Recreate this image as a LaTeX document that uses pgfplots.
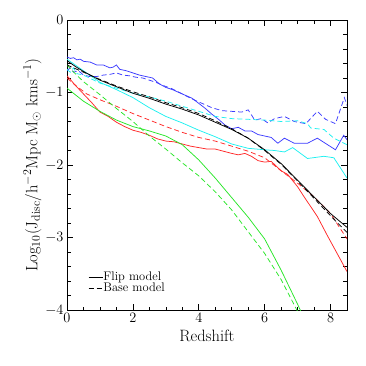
\documentclass[border=0pt]{standalone}
\usepackage{pgfplots}
\pgfplotsset{compat=1.18}
\definecolor{cblue}{RGB}{60,60,255}
\definecolor{ccyan}{RGB}{30,240,240}
\definecolor{cred}{RGB}{255,40,40}
\definecolor{cgreen}{RGB}{40,230,40}
\begin{document}
\begin{tikzpicture}
\begin{axis}[
  scale only axis, width=280bp, height=290bp,
  xmin=0, xmax=8.5, ymin=-4, ymax=0,
  xtick={0,2,4,6,8}, minor x tick num=3,
  ytick={-4,-3,-2,-1,0}, minor y tick num=4,
  tick align=inside, major tick length=6bp, minor tick length=3.5bp,
  tick style={black, line width=0.6bp},
  axis line style={line width=0.8bp},
  xlabel={Redshift},
  ylabel={Log$_{10}$(J$_{\rm disc}$/h$^{-2}$Mpc M$_\odot$ kms$^{-1}$)},
  tick label style={font=\fontsize{14}{16}\selectfont},
  label style={font=\fontsize{16.5}{18}\selectfont},
  ylabel style={yshift=-3bp},
  every axis plot/.append style={line width=0.75bp},
  legend style={draw=none, fill=none, at={(0.075,0.055)}, anchor=south west,
    font=\fontsize{12.5}{12.5}\selectfont, row sep=0bp, inner sep=0bp,
    nodes={inner sep=0.5bp}},
  legend cell align=left,
  legend image code/.code={\draw[#1] (0bp,0bp) -- (14bp,0bp);},
]
% blue solid
\addplot[cblue, forget plot] coordinates {
(0,-0.51)(0.1,-0.53)(0.2,-0.52)(0.3,-0.55)(0.4,-0.54)(0.5,-0.57)(0.7,-0.58)(0.9,-0.62)
(1.1,-0.62)(1.3,-0.66)(1.4,-0.65)(1.5,-0.62)(1.6,-0.68)(1.8,-0.70)(2.0,-0.73)(2.2,-0.76)
(2.4,-0.78)(2.6,-0.80)(2.8,-0.88)(3.0,-0.93)(3.2,-0.96)(3.4,-1.00)(3.6,-1.04)(3.8,-1.08)
(4.0,-1.15)(4.2,-1.22)(4.4,-1.30)(4.6,-1.37)(4.8,-1.45)(5.0,-1.50)(5.2,-1.48)(5.4,-1.53)
(5.6,-1.53)(5.8,-1.58)(6.0,-1.60)(6.2,-1.62)(6.4,-1.70)(6.6,-1.63)(6.9,-1.70)(7.3,-1.70)
(7.6,-1.63)(8.15,-1.79)(8.4,-1.59)(8.5,-1.65)};
% blue dashed
\addplot[cblue, dash pattern=on 5bp off 3bp, forget plot] coordinates {
(0,-0.70)(0.1,-0.66)(0.2,-0.72)(0.35,-0.70)(0.5,-0.76)(0.7,-0.78)(0.9,-0.78)(1.1,-0.76)
(1.3,-0.75)(1.5,-0.73)(1.7,-0.76)(1.9,-0.77)(2.1,-0.79)(2.3,-0.80)(2.5,-0.83)(2.7,-0.86)
(2.9,-0.90)(3.2,-0.95)(3.5,-1.02)(3.8,-1.09)(4.1,-1.15)(4.4,-1.21)(4.7,-1.25)(5.0,-1.26)
(5.3,-1.27)(5.5,-1.24)(5.7,-1.38)(5.9,-1.36)(6.1,-1.42)(6.3,-1.36)(6.6,-1.33)(6.9,-1.40)
(7.25,-1.43)(7.6,-1.26)(7.85,-1.37)(8.15,-1.43)(8.42,-1.07)(8.5,-1.18)};
% cyan solid
\addplot[ccyan, forget plot] coordinates {
(0,-0.54)(0.25,-0.62)(0.5,-0.70)(0.75,-0.78)(1,-0.86)(1.5,-0.96)(2,-1.07)(2.5,-1.21)
(3,-1.33)(3.5,-1.42)(4,-1.52)(4.5,-1.61)(5,-1.71)(5.5,-1.77)(6,-1.79)(6.3,-1.80)
(6.6,-1.82)(6.85,-1.76)(7.3,-1.91)(7.8,-1.88)(8.1,-1.90)(8.5,-2.18)};
% cyan dashed
\addplot[ccyan, dash pattern=on 5bp off 3bp, forget plot] coordinates {
(0,-0.68)(0.1,-0.72)(0.2,-0.66)(0.3,-0.74)(0.5,-0.76)(1,-0.87)(1.5,-0.94)(2,-1.01)
(2.5,-1.06)(3,-1.12)(3.5,-1.19)(4,-1.26)(4.5,-1.33)(5,-1.36)(5.5,-1.37)(6,-1.38)
(6.5,-1.40)(7,-1.39)(7.3,-1.43)(7.4,-1.49)(7.8,-1.51)(8.1,-1.63)(8.5,-1.72)};
% red solid
\addplot[cred, forget plot] coordinates {
(0,-0.77)(0.1,-0.82)(0.25,-0.90)(0.5,-1.02)(0.75,-1.14)(1,-1.27)(1.25,-1.33)(1.5,-1.41)
(1.75,-1.47)(2,-1.52)(2.25,-1.55)(2.5,-1.59)(2.75,-1.64)(3,-1.67)(3.25,-1.68)(3.5,-1.71)
(3.75,-1.74)(4,-1.76)(4.25,-1.78)(4.5,-1.78)(4.75,-1.81)(5,-1.84)(5.2,-1.86)(5.4,-1.84)
(5.6,-1.88)(5.8,-1.94)(6.0,-1.96)(6.2,-1.95)(6.5,-2.08)(6.7,-2.13)(7.0,-2.30)(7.2,-2.44)
(7.6,-2.71)(7.9,-2.97)(8.5,-3.47)};
% red dashed
\addplot[cred, dash pattern=on 5bp off 3bp, forget plot] coordinates {
(0,-0.80)(0.2,-0.88)(0.4,-0.95)(0.6,-1.02)(0.8,-1.06)(1,-1.10)(1.5,-1.19)(2,-1.29)
(2.5,-1.38)(3,-1.47)(3.5,-1.55)(4,-1.62)(4.5,-1.67)(5,-1.74)(5.5,-1.81)(6,-1.90)
(6.5,-2.08)(7,-2.25)(7.5,-2.44)(8,-2.67)(8.3,-2.88)(8.5,-3.02)};
% green solid
\addplot[cgreen, forget plot] coordinates {
(0,-0.94)(0.25,-1.03)(0.5,-1.12)(0.75,-1.19)(1,-1.26)(1.5,-1.38)(2,-1.47)(2.5,-1.53)
(3,-1.60)(3.5,-1.72)(4,-1.93)(4.5,-2.18)(5,-2.45)(5.5,-2.72)(6,-3.02)(6.5,-3.45)
(7,-3.92)(7.1,-4.02)};
% green dashed
\addplot[cgreen, dash pattern=on 5bp off 3bp, forget plot] coordinates {
(0,-0.62)(0.25,-0.74)(0.5,-0.85)(0.75,-0.94)(1,-1.03)(1.5,-1.22)(2,-1.40)(2.5,-1.60)
(3,-1.78)(3.5,-1.97)(4,-2.15)(4.5,-2.37)(5,-2.62)(5.5,-2.92)(6,-3.22)(6.5,-3.58)
(7.0,-4.02)};
% black solid
\addplot[black] coordinates {
(0,-0.56)(0.25,-0.64)(0.5,-0.71)(0.75,-0.77)(1,-0.83)(1.5,-0.92)(2,-1.01)(2.5,-1.08)
(3,-1.16)(3.5,-1.23)(4,-1.31)(4.5,-1.41)(5,-1.51)(5.5,-1.63)(6,-1.79)(6.5,-1.98)
(7,-2.21)(7.5,-2.44)(8,-2.67)(8.5,-2.86)};
\addlegendentry{Flip model}
% black dashed
\addplot[black, dash pattern=on 5bp off 3bp] coordinates {
(0,-0.62)(0.25,-0.67)(0.5,-0.72)(1,-0.82)(1.5,-0.91)(2,-0.99)(2.5,-1.06)(3,-1.14)
(3.5,-1.21)(4,-1.29)(4.5,-1.39)(5,-1.50)(5.5,-1.63)(6,-1.80)(6.5,-1.99)(7,-2.22)
(7.5,-2.46)(8,-2.70)(8.5,-2.93)};
\addlegendentry{Base model}
\end{axis}
\path[use as bounding box] ([shift={(-67bp,-56bp)}]current axis.south west) rectangle ([shift={(19bp,20bp)}]current axis.north east);
\end{tikzpicture}
\end{document}
